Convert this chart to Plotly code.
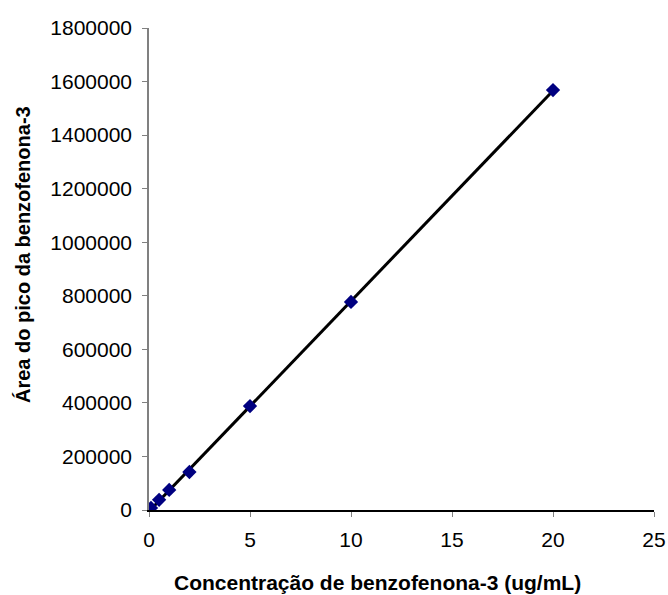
import numpy as np
import plotly.graph_objects as go

conc = [0.1, 0.5, 1, 2, 5, 10, 20]
area = [7800, 38000, 75000, 142000, 388000, 777000, 1568000]

x_ticks = [0, 5, 10, 15, 20, 25]
y_ticks = [0, 200000, 400000, 600000, 800000, 1000000, 1200000, 1400000, 1600000, 1800000]

x_title = "Concentração de benzofenona-3 (ug/mL)"
y_title = "Área do pico da benzofenona-3"

slope, intercept = np.polyfit(conc, area, 1)
fit_x = [min(conc), max(conc)]
fit_y = [slope * v + intercept for v in fit_x]

fig = go.Figure()
fig.add_trace(go.Scatter(x=fit_x, y=fit_y, mode="lines",
                         line=dict(color="black", width=3), showlegend=False))
fig.add_trace(go.Scatter(x=conc, y=area, mode="markers",
                         marker=dict(symbol="diamond", size=11, color="#000080",
                                     line=dict(width=0)), showlegend=False))

font = "Liberation Sans, Arial, sans-serif"
fig.update_layout(
    width=668, height=595,
    margin=dict(l=149, r=14, t=28, b=85),
    paper_bgcolor="white", plot_bgcolor="white",
    font=dict(family=font, size=21, color="black"),
    showlegend=False,
    annotations=[
        dict(text="<b>" + x_title + "</b>", xref="paper", yref="paper",
             x=0.4515, y=0, xanchor="center", yanchor="middle", yshift=-72,
             showarrow=False, font=dict(size=21)),
        dict(text="<b>" + y_title + "</b>", xref="paper", yref="paper",
             x=0, y=0.529, xanchor="center", yanchor="middle", xshift=-126,
             textangle=-90, showarrow=False, font=dict(size=20)),
    ],
)
fig.update_xaxes(
    range=[0, 25], tickvals=x_ticks, ticks="outside", ticklen=5, tickcolor="#808080",
    showline=True, linecolor="black", linewidth=1.5, showgrid=False, zeroline=False,
    tickfont=dict(size=21), ticklabelstandoff=5, automargin=False,
)
fig.update_yaxes(
    range=[0, 1800000], tickvals=y_ticks, tickformat="d", ticks="outside", ticklen=5,
    tickcolor="#808080", showline=True, linecolor="#808080", linewidth=1.5,
    showgrid=False, zeroline=False, tickfont=dict(size=21), ticklabelstandoff=6,
    automargin=False,
)
fig.write_html("out.html", config={"displayModeBar": False},
               post_script="document.body.style.margin='0';document.body.style.overflow='hidden';")
